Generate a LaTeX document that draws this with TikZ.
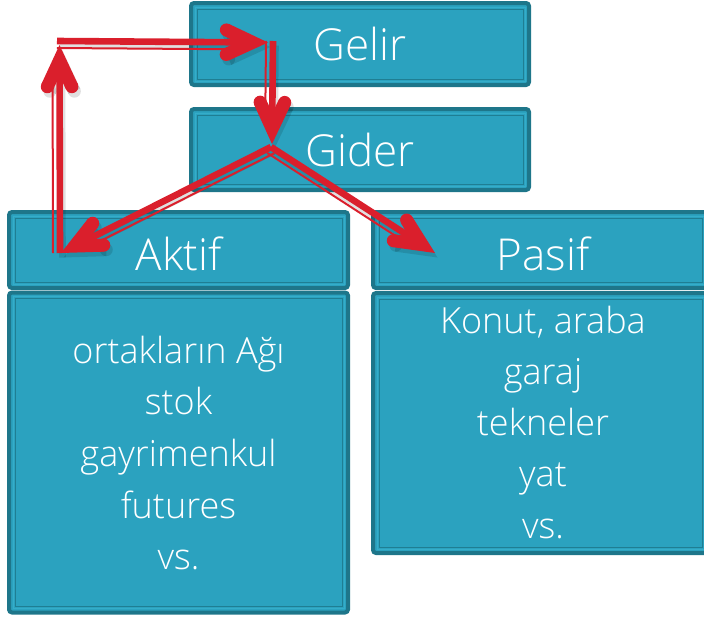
\documentclass[tikz,border=0pt]{standalone}
\usepackage{fontspec}
\IfFontExistsTF{Open Sans Light}{\setmainfont{Open Sans Light}}{\setmainfont{Open Sans}}
\usetikzlibrary{calc}
\definecolor{boxfill}{HTML}{2BA2BF}
\definecolor{boxdark}{HTML}{1E768A}
\definecolor{boxline}{HTML}{1F7E93}
\definecolor{boxlight}{HTML}{35ADC9}
\definecolor{arrred}{HTML}{DA1F2C}
% #1 start, #2 visual tip, #3 side of the thin companion line
\newcommand\redarrow[3]{%
  \coordinate (p) at ($(#2)!22pt!(#1)$);
  \fill[thkf] ($(#1)!3.3pt!90:(p)$) -- ($(p)!3.3pt!-90:(#1)$)
     -- ($(p)!3.3pt!90:(#1)$) -- ($(#1)!3.3pt!-90:(p)$) -- cycle;
  \draw[thn] ($(#1)!7pt!#3:(p)$) -- ($(p)!7pt!-#3:(#1)$);
  \coordinate (o1) at ($(#2)!43pt!25:(#1)$);
  \coordinate (o2) at ($(#2)!43pt!-25:(#1)$);
  \coordinate (i1) at ($(o1)!13pt!90:(#2)$);
  \coordinate (i2) at ($(o2)!13pt!-90:(#2)$);
  \coordinate (ii) at ($(#2)!30.8pt!(#1)$);
  \fill[chevf] (#2) -- (o1) -- (i1) -- (ii) -- (i2) -- (o2) -- cycle;
  \fill[chevf] ($(o1)!0.5!(i1)$) circle[radius=6.5pt];
  \fill[chevf] ($(o2)!0.5!(i2)$) circle[radius=6.5pt];
}
\newcommand\allarrows{%
  \redarrow{aS}{aT}{90}
  \redarrow{bS}{bT}{-90}
  \redarrow{cS}{cT}{-90}
  \redarrow{J}{dT}{90}
  \redarrow{J}{eT}{-90}
}
\begin{document}
\begin{tikzpicture}[x=1pt,y=-1pt,
  box/.style={draw=boxdark, line width=4pt, fill=boxfill, rounded corners=3pt,
    inner sep=0pt, text=white, font=\fontsize{44}{52}\selectfont},
  frame/.style={draw=boxline, line width=1pt},
  bodytext/.style={text=white, inner sep=0pt, anchor=base, font=\fontsize{36}{52}\selectfont},
  thkf/.style={fill=arrred},
  thn/.style={draw=arrred, line width=2pt},
  chevf/.style={fill=arrred},
]
\useasboundingbox (0,0) rectangle (704,616);
\clip (0,0) rectangle (704,616);

% boxes
\node[box, minimum width=338pt, minimum height=82pt] (gelir) at (360,44) {Gelir};
\node[box, minimum width=338pt, minimum height=81pt] (gider) at (360,149.5) {Gider};
\node[box, minimum width=339pt, minimum height=320pt] (akbody) at (178.5,452.5) {};
\node[box, minimum width=339pt, minimum height=76pt, text height=41pt, text depth=0pt] (akhead) at (178.5,250) {Aktif};
\node[box, minimum width=335pt, minimum height=260pt] (pabody) at (540.5,423) {};
\node[box, minimum width=335pt, minimum height=76pt, text height=41pt, text depth=0pt] (pahead) at (540.5,250) {\hspace*{5pt}Pasif};

\foreach \n in {gelir,gider,akhead,akbody,pahead,pabody}{
  \draw[draw=boxlight, line width=1pt] ([shift={(6,6)}]\n.north west) rectangle ([shift={(-6,-6)}]\n.south east);
  \draw[frame] ([shift={(8,8)}]\n.north west) rectangle ([shift={(-8,-8)}]\n.south east);
}

% body texts
\foreach \t [count=\i] in {{ortakların Ağı},stok,gayrimenkul,futures,vs.}
  \node[bodytext] (ak\i) at (178.5,{363+51.7*(\i-1)}) {\t};
\foreach \t [count=\i] in {{Konut, araba},garaj,tekneler,yat,vs.}
  \node[bodytext] (pa\i) at (543,{333+51.3*(\i-1)}) {\t};

% arrow coordinates
\coordinate (aS) at (60,253);
\coordinate (aT) at (59.5,45);
\coordinate (bS) at (57,41);
\coordinate (bT) at (268,42.5);
\coordinate (cS) at (273,41);
\coordinate (cT) at (272,144);
\coordinate (J)  at (271,147);
\coordinate (dT) at (61,253);
\coordinate (eT) at (435,253);

% shadow
\begin{scope}[transform canvas={shift={(2.5pt,-4.5pt)}},
  thkf/.style={fill=black, opacity=0.12},
  thn/.style={draw=none},
  chevf/.style={fill=black, opacity=0.12}]
  \allarrows
\end{scope}
% arrows
\allarrows
\end{tikzpicture}
\end{document}
